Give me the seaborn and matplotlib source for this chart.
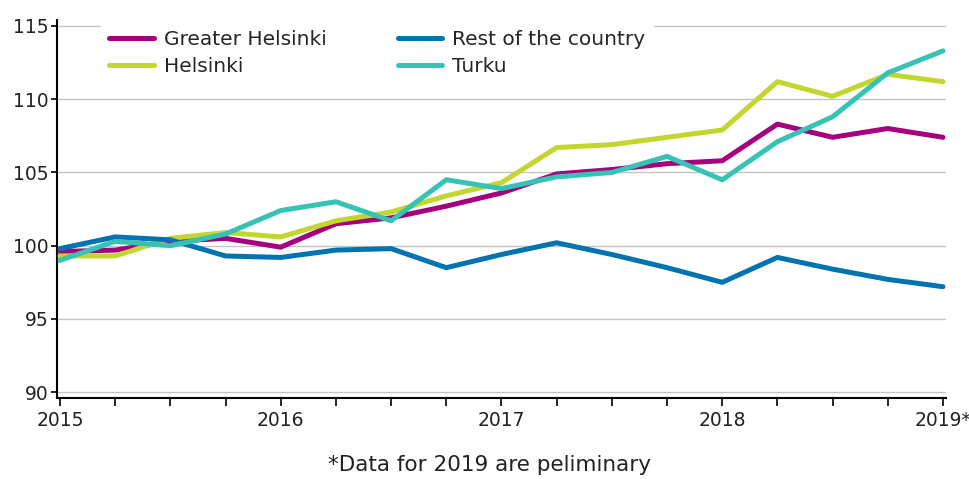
import matplotlib
matplotlib.use("Agg")
import matplotlib.pyplot as plt
import pandas as pd
import seaborn as sns

# quarterly index values, 2015Q1 .. 2019Q1
quarters = list(range(17))
greater_helsinki = [99.6, 99.7, 100.3, 100.5, 99.9, 101.5, 101.9, 102.7, 103.6,
                    104.9, 105.2, 105.6, 105.8, 108.3, 107.4, 108.0, 107.4]
helsinki = [99.3, 99.3, 100.5, 100.9, 100.6, 101.7, 102.3, 103.4, 104.3,
            106.7, 106.9, 107.4, 107.9, 111.2, 110.2, 111.7, 111.2]
rest_of_country = [99.8, 100.6, 100.4, 99.3, 99.2, 99.7, 99.8, 98.5, 99.4,
                   100.2, 99.4, 98.5, 97.5, 99.2, 98.4, 97.7, 97.2]
turku = [99.0, 100.3, 100.0, 100.8, 102.4, 103.0, 101.7, 104.5, 103.9,
         104.7, 105.0, 106.1, 104.5, 107.1, 108.8, 111.8, 113.3]

year_ticks = [0, 4, 8, 12, 16]
year_labels = ["2015", "2016", "2017", "2018", "2019*"]
y_ticks = [90, 95, 100, 105, 110, 115]

series = {
    "Greater Helsinki": greater_helsinki,
    "Helsinki": helsinki,
    "Rest of the country": rest_of_country,
    "Turku": turku,
}
palette = {
    "Greater Helsinki": "#a5007d",
    "Helsinki": "#c3d62f",
    "Rest of the country": "#0073b0",
    "Turku": "#36c3b6",
}

df = pd.concat(
    [pd.DataFrame({"quarter": quarters, "index": vals, "area": name})
     for name, vals in series.items()],
    ignore_index=True,
)

sns.set_style("white")
plt.rcParams["font.family"] = ["DejaVu Sans"]

fig = plt.figure(figsize=(9.7, 4.79), dpi=100)
ax = fig.add_axes([0.059, 0.169, 0.916, 0.789])

sns.lineplot(data=df, x="quarter", y="index", hue="area",
             hue_order=list(series.keys()), palette=palette,
             linewidth=3.6, ax=ax, zorder=3)

ax.set_xlim(-0.05, 16.05)
ax.set_ylim(89.6, 115.4)
ax.set_yticks(y_ticks)
ax.set_yticklabels([str(v) for v in y_ticks], fontsize=13.5, color="#222222")
ax.set_xticks(year_ticks)
ax.set_xticklabels(year_labels, fontsize=13.5, color="#222222")
ax.set_xticks(quarters, minor=True)
ax.tick_params(axis="x", which="both", direction="out", length=6, width=1.2,
               color="black", bottom=True, pad=3)
ax.tick_params(axis="y", direction="out", length=4, width=1.2, color="black",
               left=True, pad=2)
ax.set_xlabel("")
ax.set_ylabel("")

for v in y_ticks:
    ax.axhline(v, color="#c4c4c4", linewidth=1, zorder=1)

for side in ["top", "right"]:
    ax.spines[side].set_visible(False)
for side in ["left", "bottom"]:
    ax.spines[side].set_color("black")
    ax.spines[side].set_linewidth(1.5)

leg = ax.legend(loc="upper left", bbox_to_anchor=(0.045, 1.005), ncol=2,
                frameon=True, fontsize=14.5, handlelength=2.2, handletextpad=0.5,
                columnspacing=3.55, labelspacing=0.4, borderaxespad=0.2)
leg.get_frame().set_edgecolor("white")
leg.get_frame().set_facecolor("white")
leg.get_frame().set_alpha(1)
leg.set_zorder(5)

fig.text(0.505, 0.03, "*Data for 2019 are peliminary", ha="center", va="center",
         fontsize=15.5, color="#222222")

fig.savefig("out.png", dpi=100)
